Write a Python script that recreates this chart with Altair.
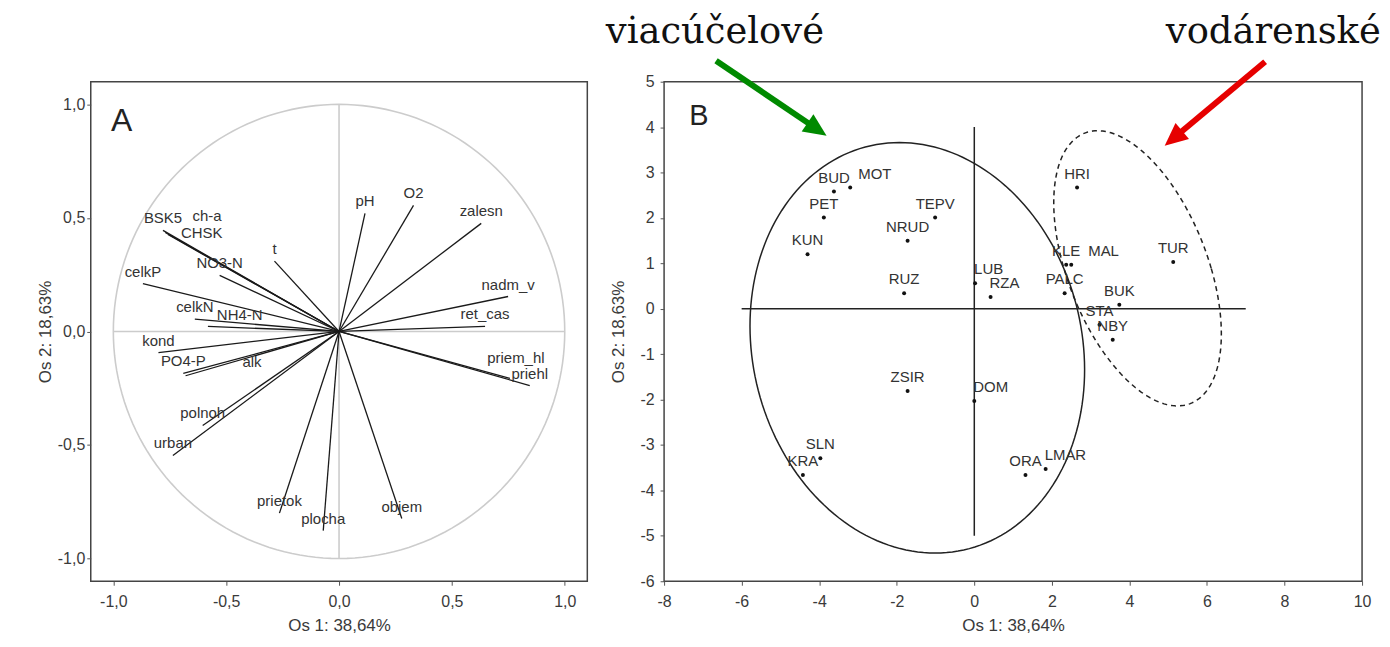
import json
import altair as alt
import pandas as pd

# ---------------- Panel A : variable loadings (PCA) ----------------
var_names = ["BSK5", "ch-a", "CHSK", "NO3-N", "t", "celkP", "celkN", "NH4-N", "kond",
             "PO4-P", "alk", "polnoh", "urban", "prietok", "plocha", "objem",
             "priem_hl", "priehl", "ret_cas", "nadm_v", "zalesn", "O2", "pH"]
var_x = [-0.78, -0.77, -0.758, -0.529, -0.286, -0.869, -0.639, -0.581, -0.80,
         -0.69, -0.68, -0.604, -0.736, -0.264, -0.07, 0.278,
         0.757, 0.845, 0.647, 0.749, 0.63, 0.33, 0.115]
var_y = [0.445, 0.436, 0.427, 0.247, 0.31, 0.211, 0.054, 0.022, -0.093,
         -0.185, -0.195, -0.414, -0.546, -0.80, -0.877, -0.824,
         -0.207, -0.238, 0.022, 0.154, 0.476, 0.555, 0.52]

# ---------------- Panel B : reservoir scores ----------------
site_names = ["BUD", "MOT", "PET", "KUN", "TEPV", "NRUD", "RUZ", "LUB", "RZA", "HRI",
              "KLE", "MAL", "PALC", "TUR", "BUK", "STA", "NBY", "ZSIR", "DOM",
              "SLN", "KRA", "ORA", "LMAR"]
site_x = [-3.62, -3.20, -3.88, -4.30, -1.01, -1.72, -1.81, 0.02, 0.42, 2.65,
          2.37, 2.50, 2.33, 5.13, 3.74, 3.23, 3.57, -1.72, 0.0,
          -3.97, -4.42, 1.32, 1.84]
site_y = [2.58, 2.67, 2.01, 1.20, 2.01, 1.50, 0.34, 0.56, 0.26, 2.67,
          0.97, 0.97, 0.34, 1.03, 0.09, -0.35, -0.68, -1.81, -2.03,
          -3.29, -3.66, -3.66, -3.53]

# group ellipses: centre, semi-axes and shear
ell_names = ["viac", "vod"]
ell_cx = [-1.47, 4.21]
ell_cy = [-0.86, 0.89]
ell_a = [4.29, 1.90]
ell_b = [4.52, 3.03]
ell_k = [-0.46, -1.03]

# group titles and arrows
group_titles = ["viacúčelové", "vodárenské"]
title_x = [-6.69, 7.71]
title_y = [5.86, 5.86]
arrow_color = ["#008a00", "#e60000"]
arrow_x0 = [-6.66, 7.50]
arrow_y0 = [5.46, 5.44]
arrow_x1 = [-4.13, 5.20]
arrow_y1 = [4.00, 3.80]
arrow_tip_x = [-3.81, 4.91]
arrow_tip_y = [3.81, 3.59]
arrow_angle = [124, 230]

# axis cross lines
crossA_x = [-1, 0]; crossA_y = [0, -1]; crossA_x2 = [1, 0]; crossA_y2 = [0, 1]
crossB_x = [-6, 0]; crossB_y = [0, -5]; crossB_x2 = [7, 0]; crossB_y2 = [0, 4]

FONT = "Liberation Sans"
TXT = "#333333"

dfA = pd.DataFrame({"name": var_names, "x": var_x, "y": var_y})
dfB = pd.DataFrame({"name": site_names, "x": site_x, "y": site_y})

# ---------------- scales / axes ----------------
comma1 = "replace(replace(format(datum.value, '.1f'), '.', ','), '\u2212', '-')"
intlab = "replace(format(datum.value, 'd'), '\u2212', '-')"
XA = alt.X("x:Q", scale=alt.Scale(domain=[-1.1, 1.1], nice=False, zero=False),
           axis=alt.Axis(values=[-1, -0.5, 0, 0.5, 1], labelExpr=comma1, labelFlush=False,
                         title="Os 1: 38,64%", labelPadding=8, titlePadding=8))
YA = alt.Y("y:Q", scale=alt.Scale(domain=[-1.1, 1.1], nice=False, zero=False),
           axis=alt.Axis(values=[-1, -0.5, 0, 0.5, 1], labelExpr=comma1, labelFlush=False,
                         title="Os 2: 18,63%", labelPadding=2, titlePadding=3))
XB = alt.X("x:Q", scale=alt.Scale(domain=[-8, 10], nice=False, zero=False),
           axis=alt.Axis(values=list(range(-8, 11, 2)), labelExpr=intlab, labelFlush=False,
                         title="Os 1: 38,64%", labelPadding=8, titlePadding=8))
YB = alt.Y("y:Q", scale=alt.Scale(domain=[-6, 5], nice=False, zero=False),
           axis=alt.Axis(values=list(range(-6, 6)), labelExpr=intlab, labelFlush=False,
                         title="Os 2: 18,63%", labelPadding=6, titlePadding=12))


def label_layers(df, X, Y, groups, default_dy, size):
    """groups: list of (names, align, dx, dy); everything else centred above."""
    special = [n for g in groups for n in g[0]]
    layers = [
        alt.Chart(df).transform_filter(
            f"indexof({json.dumps(special)}, datum.name) < 0"
        ).mark_text(font=FONT, fontSize=size, color=TXT, baseline="middle",
                    align="center", dy=default_dy).encode(x=X, y=Y, text="name:N")
    ]
    for names, align, dx, dy in groups:
        layers.append(
            alt.Chart(df).transform_filter(
                f"indexof({json.dumps(names)}, datum.name) >= 0"
            ).mark_text(font=FONT, fontSize=size, color=TXT, baseline="middle",
                        align=align, dx=dx, dy=dy).encode(x=X, y=Y, text="name:N")
        )
    return layers


# ---------------- Panel A ----------------
circleA = alt.Chart(alt.sequence(0, 361, 2, as_="t")).transform_calculate(
    x="cos(datum.t*PI/180)", y="sin(datum.t*PI/180)"
).mark_line(color="#cccccc", strokeWidth=1.6).encode(x=XA, y=YA, order="t:Q")

crossA = alt.Chart(pd.DataFrame({"x": crossA_x, "y": crossA_y, "x2": crossA_x2, "y2": crossA_y2})
                   ).mark_rule(color="#cccccc", strokeWidth=1.6).encode(
    x=XA, y=YA, x2="x2:Q", y2="y2:Q")

vectors = alt.Chart(dfA).transform_calculate(x0="0", y0="0").mark_rule(
    color="#1a1a1a", strokeWidth=1.3).encode(x=XA, y=YA, x2="x0:Q", y2="y0:Q")

groupsA = [
    (["ch-a"], "center", 42, -17),
    (["CHSK"], "left", 13, -2),
    (["NH4-N"], "left", 9, -11),
    (["alk"], "left", 57, -14),
    (["priem_hl"], "center", 6, -21),
]
labelsA = label_layers(dfA, XA, YA, groupsA, -12, 15)

letterA = alt.Chart(pd.DataFrame({"x": [-0.963], "y": [0.925], "t": ["A"]})).mark_text(
    font=FONT, fontSize=32, color="#222", baseline="middle", align="center"
).encode(x=XA, y=YA, text="t:N")

panelA = alt.layer(circleA, crossA, vectors, *labelsA, letterA).properties(
    width=498, height=501)

# ---------------- Panel B ----------------
dfEll = pd.DataFrame({"g": ell_names, "cx": ell_cx, "cy": ell_cy,
                      "a": ell_a, "b": ell_b, "k": ell_k})


def ellipse(idx, dash):
    row = dfEll.iloc[idx]
    ch = alt.Chart(alt.sequence(0, 361, 2, as_="t")).transform_calculate(
        x=f"{row.cx} + {row.a}*cos(datum.t*PI/180) + {row.k}*sin(datum.t*PI/180)",
        y=f"{row.cy} + {row.b}*sin(datum.t*PI/180)",
    )
    kw = dict(color="#222", strokeWidth=1.5)
    if dash:
        kw["strokeDash"] = [5, 4]
    return ch.mark_line(**kw).encode(x=XB, y=YB, order="t:Q")


crossB = alt.Chart(pd.DataFrame({"x": crossB_x, "y": crossB_y, "x2": crossB_x2, "y2": crossB_y2})
                   ).mark_rule(color="#222", strokeWidth=1.5).encode(
    x=XB, y=YB, x2="x2:Q", y2="y2:Q")

dots = alt.Chart(dfB).mark_circle(size=16, color="#111", opacity=1).encode(x=XB, y=YB)

groupsB = [
    (["LUB", "DOM", "LMAR", "RZA"], "left", -1, -14),
    (["MOT"], "left", 8, -14),
    (["MAL"], "left", 17, -14),
]
labelsB = label_layers(dfB, XB, YB, groupsB, -14, 15)

letterB = alt.Chart(pd.DataFrame({"x": [-7.1], "y": [4.25], "t": ["B"]})).mark_text(
    font=FONT, fontSize=29, color="#222", baseline="middle", align="center"
).encode(x=XB, y=YB, text="t:N")

dfArrow = pd.DataFrame({"x": arrow_x0, "y": arrow_y0, "x2": arrow_x1, "y2": arrow_y1,
                        "tx": arrow_tip_x, "ty": arrow_tip_y, "color": arrow_color,
                        "angle": arrow_angle})
arrow_lines = alt.Chart(dfArrow).mark_rule(strokeWidth=6, strokeCap="butt").encode(
    x=XB, y=YB, x2="x2:Q", y2="y2:Q", color=alt.Color("color:N", scale=None))
arrow_heads = alt.Chart(dfArrow).transform_calculate(x="datum.tx", y="datum.ty").mark_point(
    shape="M0,0L-1.05,2.3L1.05,2.3Z", filled=True, size=400, opacity=1, strokeWidth=0
).encode(x=XB, y=YB, color=alt.Color("color:N", scale=None),
         angle=alt.Angle("angle:Q", scale=None))

titles = alt.Chart(pd.DataFrame({"x": title_x, "y": title_y, "t": group_titles})).mark_text(
    font="DejaVu Serif", fontSize=37, color="#111", baseline="alphabetic", align="center"
).encode(x=XB, y=YB, text="t:N")

panelB = alt.layer(ellipse(0, False), ellipse(1, True), crossB, dots, *labelsB,
                   letterB, arrow_lines, arrow_heads, titles).properties(
    width=700, height=501)

chart = alt.hconcat(panelA, panelB, spacing=77, bounds="flush").properties(
    padding={"left": 27, "top": 3, "right": 0, "bottom": 0}
).configure_view(stroke="#444", strokeWidth=1.5).configure_axis(
    grid=False, domain=False, labelFont=FONT, titleFont=FONT, labelFontSize=16,
    titleFontSize=17, titleFontWeight="normal", labelColor="#3a3a3a",
    titleColor="#3a3a3a", tickColor="#555", tickSize=4)

chart.save("out.html", embed_options={"renderer": "svg", "actions": False})
